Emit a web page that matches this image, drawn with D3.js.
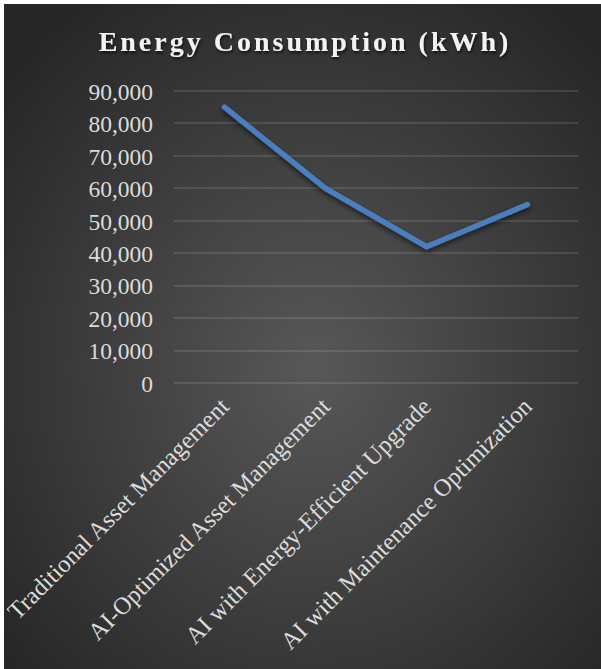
<!DOCTYPE html>
<html>
<head>
<meta charset="utf-8">
<script src="https://cdn.jsdelivr.net/npm/d3@7"></script>
<style>
  html, body { margin: 0; padding: 0; background: #ffffff; }
  svg { display: block; }
  svg text { font-family: "Liberation Serif", "Times New Roman", "DejaVu Serif", serif; }
</style>
</head>
<body>
<svg id="chart" width="601" height="669"></svg>
<script>
const categories = [
  "Traditional Asset Management",
  "AI-Optimized Asset Management",
  "AI with Energy-Efficient Upgrade",
  "AI with Maintenance Optimization"
];
const energyValues = [85000, 60000, 42000, 55000];
const yTicks = [0, 10000, 20000, 30000, 40000, 50000, 60000, 70000, 80000, 90000];
const chartTitle = "Energy Consumption (kWh)";

const svg = d3.select("#chart");
const W = 601, H = 669;
const defs = svg.append("defs");

const grad = defs.append("radialGradient")
  .attr("id", "bg").attr("cx", "52%").attr("cy", "55%").attr("r", "68%");
grad.append("stop").attr("offset", "0%").attr("stop-color", "#585858");
grad.append("stop").attr("offset", "100%").attr("stop-color", "#262626");

const shadow = defs.append("filter").attr("id", "lineShadow")
  .attr("x", "-10%").attr("y", "-10%").attr("width", "130%").attr("height", "140%");
shadow.append("feDropShadow").attr("dx", 0).attr("dy", 3).attr("stdDeviation", 2.5)
  .attr("flood-color", "#000").attr("flood-opacity", 0.55);

const tshadow = defs.append("filter").attr("id", "textShadow")
  .attr("x", "-5%").attr("y", "-20%").attr("width", "110%").attr("height", "150%");
tshadow.append("feDropShadow").attr("dx", 1).attr("dy", 2).attr("stdDeviation", 1.5)
  .attr("flood-color", "#000").attr("flood-opacity", 0.7);

svg.append("rect").attr("x", 4).attr("y", 4).attr("width", W - 4).attr("height", H - 4)
  .attr("fill", "url(#bg)");

const x = d3.scaleBand().domain(categories).range([174, 578]);
const y = d3.scaleLinear().domain([0, 90000]).range([383, 91]);

const serif = "'Liberation Serif', 'Times New Roman', 'DejaVu Serif', serif";

// gridlines
svg.append("g").selectAll("line").data(yTicks).join("line")
  .attr("x1", 174).attr("x2", 578)
  .attr("y1", d => Math.round(y(d))).attr("y2", d => Math.round(y(d)))
  .attr("stroke", "rgba(255,255,255,0.11)").attr("stroke-width", 2);

// y axis
const yAxis = svg.append("g").attr("transform", "translate(153,0)")
  .call(d3.axisLeft(y).tickValues(yTicks).tickFormat(d3.format(",")).tickSize(0).tickPadding(0));
yAxis.select(".domain").remove();
yAxis.attr("font-family", null).attr("font-size", null);
yAxis.selectAll("text")
  .style("font-family", serif).style("font-size", "23.5px").attr("fill", "#dcdcdc")
  .attr("dy", "0.35em");

// x axis labels
const xAxis = svg.append("g").attr("transform", "translate(0,383)")
  .call(d3.axisBottom(x).tickSize(0).tickPadding(0));
xAxis.select(".domain").remove();
xAxis.attr("font-family", null).attr("font-size", null);
xAxis.selectAll("text")
  .style("font-family", serif).style("font-size", "24.5px").attr("fill", "#dcdcdc")
  .attr("text-anchor", "end").attr("dy", 0).attr("y", 0)
  .attr("transform", "translate(6,25) rotate(-45)");

// line
const line = d3.line()
  .x((d, i) => x(categories[i]) + x.bandwidth() / 2)
  .y(d => y(d));
svg.append("path").datum(energyValues)
  .attr("d", line)
  .attr("fill", "none").attr("stroke", "#4a7ebf").attr("stroke-width", 5.5)
  .attr("stroke-linecap", "round").attr("stroke-linejoin", "round")
  .attr("filter", "url(#lineShadow)");

// title
svg.append("text").attr("x", 305).attr("y", 51).attr("text-anchor", "middle")
  .style("font-family", serif).attr("font-weight", "bold").style("font-size", "28px")
  .attr("letter-spacing", "3px").attr("fill", "#f2f2f2")
  .attr("filter", "url(#textShadow)")
  .text(chartTitle);
</script>
</body>
</html>
